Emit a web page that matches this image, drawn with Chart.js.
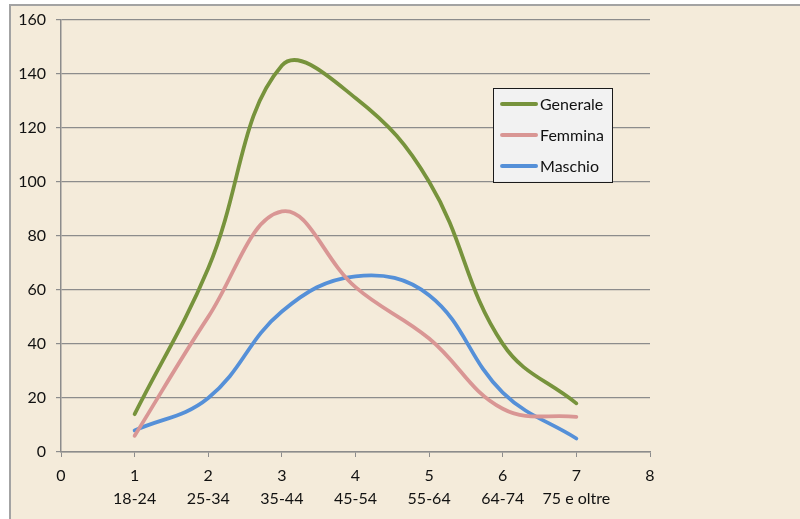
<!DOCTYPE html>
<html>
<head>
<meta charset="utf-8">
<script src="https://cdn.jsdelivr.net/npm/chart.js@4/dist/chart.umd.min.js"></script>
<style>
  html, body { margin: 0; padding: 0; background: #ffffff; width: 800px; height: 519px; overflow: hidden; }
  #frame { position: absolute; left: 9px; top: 4px; width: 800px; height: 530px;
           border-left: 2px solid #a3a3a3; border-top: 2px solid #a3a3a3; background: #f4ebda; }
  #wrap { position: absolute; left: 0; top: 0; width: 800px; height: 519px; }
</style>
</head>
<body>
<div id="frame"></div>
<div id="wrap"><canvas id="c" width="800" height="519"></canvas></div>
<script>
const xPositions = [1, 2, 3, 4, 5, 6, 7];
const ageGroups = ['18-24', '25-34', '35-44', '45-54', '55-64', '64-74', '75 e oltre'];
const generale = [14, 68, 143, 131, 100, 40, 18];
const femmina  = [6, 50, 89, 61, 42, 16, 13];
const maschio  = [8, 20, 52, 65, 58, 22, 5];
const seriesNames = ['Generale', 'Femmina', 'Maschio'];
const seriesColors = ['#77933c', '#d99694', '#5590d8'];

const FONT = 'Lato, "Open Sans", sans-serif';

function toPoints(arr) { return arr.map((v, i) => ({ x: xPositions[i], y: v })); }

const legendBox = {
  id: 'legendBox',
  afterDraw(chart) {
    const ctx = chart.ctx;
    const a = chart.chartArea;
    const x0 = a.left + (a.right - a.left) * 0.7335;
    const y0 = a.top + (a.bottom - a.top) * 0.158;
    const w = 119, h = 94;
    ctx.save();
    ctx.fillStyle = '#f2f2f2';
    ctx.fillRect(x0, y0, w, h);
    ctx.strokeStyle = '#1a1a1a';
    ctx.lineWidth = 1;
    ctx.strokeRect(Math.round(x0) + 0.5, Math.round(y0) + 0.5, w, h);
    ctx.font = '16px ' + FONT;
    ctx.textBaseline = 'middle';
    ctx.textAlign = 'left';
    chart.data.datasets.forEach((ds, i) => {
      const yy = y0 + 16 + i * 31;
      ctx.strokeStyle = ds.borderColor;
      ctx.lineWidth = 4;
      ctx.lineCap = 'round';
      ctx.beginPath();
      ctx.moveTo(x0 + 9, yy);
      ctx.lineTo(x0 + 43, yy);
      ctx.stroke();
      ctx.fillStyle = '#111111';
      ctx.fillText(ds.label, x0 + 47, yy + 1);
    });
    ctx.restore();
  }
};

new Chart(document.getElementById('c'), {
  type: 'line',
  data: {
    datasets: [
      { label: seriesNames[0], data: toPoints(generale), borderColor: seriesColors[0] },
      { label: seriesNames[1], data: toPoints(femmina), borderColor: seriesColors[1] },
      { label: seriesNames[2], data: toPoints(maschio), borderColor: seriesColors[2] }
    ].map(d => Object.assign(d, {
      borderWidth: 3.8, pointRadius: 0, tension: 0.4, fill: false,
      borderCapStyle: 'round', borderJoinStyle: 'round', backgroundColor: d.borderColor
    }))
  },
  options: {
    responsive: false,
    animation: false,
    layout: { padding: { left: 0, right: 150, top: 17, bottom: 0 } },
    plugins: { legend: { display: false }, tooltip: { enabled: false } },
    scales: {
      x: {
        type: 'linear', min: 0, max: 8,
        afterFit(s) { s.height = 67; },
        ticks: {
          stepSize: 1, autoSkip: false, maxRotation: 0,
          color: '#111111', font: { family: FONT, size: 16, lineHeight: 1.4 }, padding: 8,
          callback(v) {
            const i = xPositions.indexOf(v);
            return i >= 0 ? [String(v), ageGroups[i]] : String(v);
          }
        },
        grid: { drawOnChartArea: false, drawTicks: true, tickLength: 5, color: '#8c8c8c' },
        border: { color: '#8c8c8c', width: 1.5 }
      },
      y: {
        min: 0, max: 160,
        afterFit(s) { s.width = 61; },
        ticks: { stepSize: 20, color: '#111111', font: { family: FONT, size: 16 }, padding: 10 },
        grid: { color: '#8c8c8c', lineWidth: 1.2, drawTicks: true, tickLength: 5 },
        border: { color: '#8c8c8c', width: 1.5 }
      }
    }
  },
  plugins: [legendBox]
});
</script>
</body>
</html>
